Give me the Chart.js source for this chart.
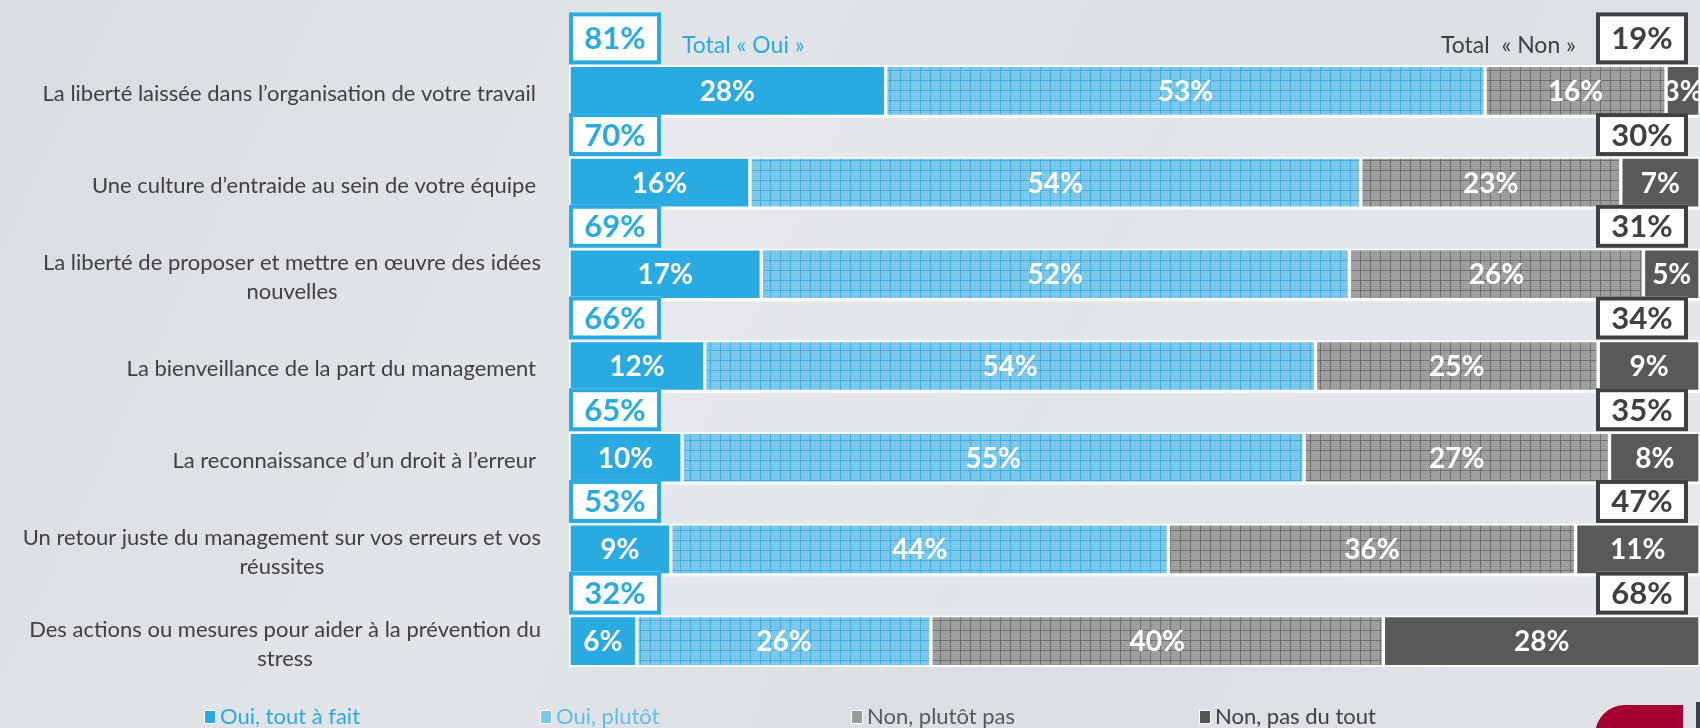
<!DOCTYPE html>
<html>
<head>
<meta charset="utf-8">
<script src="https://cdn.jsdelivr.net/npm/chart.js@4"></script>
<style>
  html, body { margin: 0; padding: 0; }
  body {
    width: 1700px; height: 728px; overflow: hidden; position: relative;
    background: linear-gradient(115deg, #d8dde1 0%, #e2e5e8 35%, #dadfe3 60%, #e0e3e6 100%);
    font-family: Lato, "Open Sans", sans-serif;
  }
  #graf { position: absolute; left: 0; top: 0; }
  .legende { position: absolute; top: 703px; font-size: 22px; white-space: nowrap; line-height: 26px; }
  .legende i { display: inline-block; width: 10px; height: 12px; margin-right: 4px; vertical-align: 0px; border: 1px solid #fff; }
  .logo { position: absolute; left: 1595px; top: 705px; width: 88px; height: 30px; background: #a50034; border-top-left-radius: 40px; }
  .logo2 { position: absolute; left: 1696px; top: 702px; width: 4px; height: 30px; background: #3a3f48; }
</style>
</head>
<body>
<canvas id="graf" width="1700" height="728"></canvas>

<div class="legende" style="left:204px; color:#29abe2"><i style="background:#29abe2"></i>Oui, tout à fait</div>
<div class="legende" style="left:540px; color:#62bde6"><i style="background:#7cc7ea"></i>Oui, plutôt</div>
<div class="legende" style="left:851px; color:#595959"><i style="background:#9a9a9a"></i>Non, plutôt pas</div>
<div class="legende" style="left:1199px; color:#404040"><i style="background:#555555"></i>Non, pas du tout</div>
<div class="logo"></div>
<div class="logo2"></div>

<script>
// Questions (lignes du graphique)
const categories = [
    ['La liberté laissée dans l’organisation de votre travail'],
    ['Une culture d’entraide au sein de votre équipe'],
    ['La liberté de proposer et mettre en œuvre des idées', 'nouvelles'],
    ['La bienveillance de la part du management'],
    ['La reconnaissance d’un droit à l’erreur'],
    ['Un retour juste du management sur vos erreurs et vos', 'réussites'],
    ['Des actions ou mesures pour aider à la prévention du', 'stress']
];

// Valeurs en %
const ouiToutAFait = [28, 16, 17, 12, 10, 9, 6];
const ouiPlutot = [53, 54, 52, 54, 55, 44, 26];
const nonPlutotPas = [16, 23, 26, 25, 27, 36, 40];
const nonPasDuTout = [3, 7, 5, 9, 8, 11, 28];

// Totaux affichés dans les encadrés
const totalOui = [81, 70, 69, 66, 65, 53, 32];
const totalNon = [19, 30, 31, 34, 35, 47, 68];

const legendes = ['Oui, tout à fait', 'Oui, plutôt', 'Non, plutôt pas', 'Non, pas du tout'];

const BLEU = '#29abe2';
const GRIS_TEXTE = '#404040';

// Motif quadrillé pour les barres "plutôt"
function quadrillage(fond, ligne, grain) {
    const c = document.createElement('canvas');
    c.width = 10; c.height = 10;
    const g = c.getContext('2d');
    g.fillStyle = fond;
    g.fillRect(0, 0, 10, 10);
    g.fillStyle = grain;
    for (let y = 0; y < 10; y += 2) {
        for (let x = (y / 2) % 2; x < 10; x += 2) {
            g.fillRect(x, y, 1, 1);
        }
    }
    g.fillStyle = ligne;
    g.fillRect(0, 0, 10, 1);
    g.fillRect(0, 0, 1, 10);
    return g.createPattern(c, 'repeat');
}

const motifBleu = quadrillage('#84c9e9', '#3caee0', 'rgba(60,170,220,0.35)');
const motifGris = quadrillage('#a3a3a3', '#6f6f6f', 'rgba(110,110,110,0.35)');

// Plugin: bandes, étiquettes, encadrés et libellés
const decor = {
    id: 'decor',
    beforeDatasetsDraw(chart) {
        const ctx = chart.ctx;
        const meta = chart.getDatasetMeta(0);
        const area = chart.chartArea;
        ctx.save();
        for (let i = 1; i < meta.data.length; i++) {
            const bar = meta.data[i];
            const prev = meta.data[i - 1];
            const top = prev.y + prev.height / 2;
            const bottom = bar.y - bar.height / 2;
            ctx.fillStyle = 'rgba(255,255,255,0.2)';
            ctx.fillRect(area.left, top, area.right - area.left, bottom - top);
            ctx.fillStyle = 'rgba(255,255,255,0.8)';
            ctx.fillRect(area.left, top, area.right - area.left, 1.5);
        }
        ctx.restore();
    },
    afterDatasetsDraw(chart) {
        const ctx = chart.ctx;
        ctx.save();
        ctx.font = 'bold 28px Lato';
        ctx.fillStyle = '#ffffff';
        ctx.textAlign = 'center';
        ctx.textBaseline = 'middle';
        chart.data.datasets.forEach((ds, d) => {
            const meta = chart.getDatasetMeta(d);
            meta.data.forEach((bar, i) => {
                const cx = (bar.x + bar.base) / 2;
                ctx.fillText(ds.data[i] + '%', cx, bar.y + 1);
            });
        });
        ctx.restore();
    },
    afterDraw(chart) {
        const ctx = chart.ctx;
        const area = chart.chartArea;
        const meta = chart.getDatasetMeta(0);
        ctx.save();

        // Totaux
        meta.data.forEach((bar, i) => {
            const barTop = bar.y - bar.height / 2;
            const h = i === 0 ? 52 : 43;
            const top = barTop - h - 1;
            const boxes = [
                { x: area.left, col: BLEU, txt: totalOui[i] + '%' },
                { x: area.right - 104, col: GRIS_TEXTE, txt: totalNon[i] + '%' }
            ];
            boxes.forEach(b => {
                ctx.fillStyle = '#ffffff';
                ctx.fillRect(b.x, top, 92, h);
                ctx.strokeStyle = b.col;
                ctx.lineWidth = 4;
                ctx.strokeRect(b.x + 2, top + 2, 88, h - 4);
                ctx.fillStyle = b.col;
                ctx.font = 'bold 31px Lato';
                ctx.textAlign = 'center';
                ctx.textBaseline = 'middle';
                ctx.fillText(b.txt, b.x + 46, top + h / 2 + 1);
            });
        });

        // Titres des totaux
        ctx.font = '23px Lato';
        ctx.textBaseline = 'alphabetic';
        ctx.textAlign = 'left';
        ctx.fillStyle = BLEU;
        ctx.fillText('Total « Oui »', 682, 53);
        ctx.textAlign = 'right';
        ctx.fillStyle = GRIS_TEXTE;
        ctx.fillText('Total  « Non »', 1576, 53);

        // Libellés des questions
        ctx.font = '22px Lato';
        ctx.fillStyle = GRIS_TEXTE;
        ctx.textAlign = 'center';
        ctx.textBaseline = 'middle';
        const yScale = chart.scales.y;
        categories.forEach((lignes, i) => {
            const cy = yScale.getPixelForValue(i);
            const larg = Math.max(...lignes.map(l => ctx.measureText(l).width));
            const cx = (lignes.length > 1 ? 541 : 536) - larg / 2;
            const pas = 29;
            lignes.forEach((l, k) => {
                const y = cy + 3 + (k - (lignes.length - 1) / 2) * pas;
                ctx.fillText(l, cx, y);
            });
        });
        ctx.restore();
    }
};

const chart = new Chart(document.getElementById('graf'), {
    type: 'bar',
    data: {
        labels: categories,
        datasets: [
            { label: legendes[0], data: ouiToutAFait, backgroundColor: BLEU },
            { label: legendes[1], data: ouiPlutot, backgroundColor: motifBleu },
            { label: legendes[2], data: nonPlutotPas, backgroundColor: motifGris },
            { label: legendes[3], data: nonPasDuTout, backgroundColor: '#595959' }
        ].map(ds => Object.assign(ds, {
            borderColor: '#ffffff',
            borderWidth: 2,
            borderSkipped: false,
            barThickness: 51
        }))
    },
    options: {
        indexAxis: 'y',
        responsive: false,
        animation: false,
        layout: { padding: { left: 569, right: 0, top: 45, bottom: 41 } },
        scales: {
            x: { stacked: true, min: 0, max: 100, display: false },
            y: { stacked: true, display: false }
        },
        plugins: {
            legend: { display: false },
            tooltip: { enabled: false }
        }
    },
    plugins: [decor]
});
</script>
</body>
</html>
